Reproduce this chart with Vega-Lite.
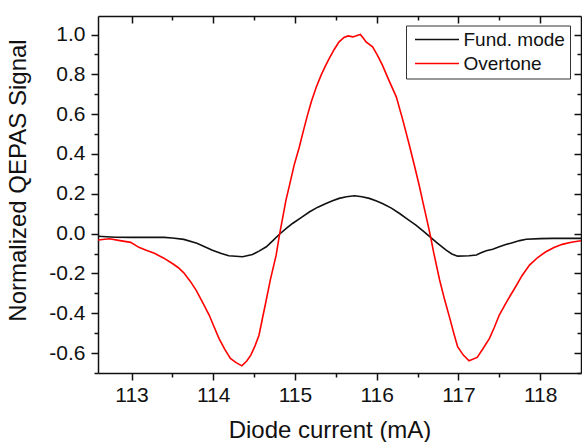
{
  "$schema": "https://vega.github.io/schema/vega-lite/v6.json",
  "width": 483,
  "height": 357,
  "autosize": {"type": "none"},
  "padding": {"left": 98, "top": 16, "right": 1, "bottom": 69},
  "config": {
    "font": "Liberation Sans",
    "view": {"stroke": null},
    "axis": {"grid": false, "domainColor": "#111", "domainWidth": 1.5, "tickColor": "#111", "tickWidth": 1.5, "labelColor": "#111", "titleColor": "#111", "titleFontWeight": "normal", "labelFlush": false, "labelOverlap": false}
  },
  "datasets": {
    "curves": [
      {"x": 112.59, "y": -0.013, "mode": "Fund. mode"},
      {"x": 112.8, "y": -0.018, "mode": "Fund. mode"},
      {"x": 113.0, "y": -0.019, "mode": "Fund. mode"},
      {"x": 113.2, "y": -0.019, "mode": "Fund. mode"},
      {"x": 113.4, "y": -0.019, "mode": "Fund. mode"},
      {"x": 113.5, "y": -0.022, "mode": "Fund. mode"},
      {"x": 113.64, "y": -0.029, "mode": "Fund. mode"},
      {"x": 113.8, "y": -0.048, "mode": "Fund. mode"},
      {"x": 113.99, "y": -0.083, "mode": "Fund. mode"},
      {"x": 114.1, "y": -0.1, "mode": "Fund. mode"},
      {"x": 114.19, "y": -0.111, "mode": "Fund. mode"},
      {"x": 114.36, "y": -0.116, "mode": "Fund. mode"},
      {"x": 114.48, "y": -0.105, "mode": "Fund. mode"},
      {"x": 114.56, "y": -0.088, "mode": "Fund. mode"},
      {"x": 114.65, "y": -0.066, "mode": "Fund. mode"},
      {"x": 114.73, "y": -0.035, "mode": "Fund. mode"},
      {"x": 114.81, "y": -0.003, "mode": "Fund. mode"},
      {"x": 114.89, "y": 0.025, "mode": "Fund. mode"},
      {"x": 114.97, "y": 0.051, "mode": "Fund. mode"},
      {"x": 115.08, "y": 0.082, "mode": "Fund. mode"},
      {"x": 115.18, "y": 0.11, "mode": "Fund. mode"},
      {"x": 115.28, "y": 0.133, "mode": "Fund. mode"},
      {"x": 115.38, "y": 0.151, "mode": "Fund. mode"},
      {"x": 115.46, "y": 0.165, "mode": "Fund. mode"},
      {"x": 115.54, "y": 0.177, "mode": "Fund. mode"},
      {"x": 115.63, "y": 0.185, "mode": "Fund. mode"},
      {"x": 115.73, "y": 0.19, "mode": "Fund. mode"},
      {"x": 115.82, "y": 0.185, "mode": "Fund. mode"},
      {"x": 115.91, "y": 0.177, "mode": "Fund. mode"},
      {"x": 115.99, "y": 0.165, "mode": "Fund. mode"},
      {"x": 116.07, "y": 0.151, "mode": "Fund. mode"},
      {"x": 116.18, "y": 0.128, "mode": "Fund. mode"},
      {"x": 116.28, "y": 0.101, "mode": "Fund. mode"},
      {"x": 116.38, "y": 0.072, "mode": "Fund. mode"},
      {"x": 116.48, "y": 0.043, "mode": "Fund. mode"},
      {"x": 116.57, "y": 0.012, "mode": "Fund. mode"},
      {"x": 116.66, "y": -0.019, "mode": "Fund. mode"},
      {"x": 116.75, "y": -0.05, "mode": "Fund. mode"},
      {"x": 116.85, "y": -0.083, "mode": "Fund. mode"},
      {"x": 116.92, "y": -0.102, "mode": "Fund. mode"},
      {"x": 116.99, "y": -0.113, "mode": "Fund. mode"},
      {"x": 117.13, "y": -0.111, "mode": "Fund. mode"},
      {"x": 117.22, "y": -0.107, "mode": "Fund. mode"},
      {"x": 117.27, "y": -0.097, "mode": "Fund. mode"},
      {"x": 117.34, "y": -0.086, "mode": "Fund. mode"},
      {"x": 117.42, "y": -0.078, "mode": "Fund. mode"},
      {"x": 117.5, "y": -0.066, "mode": "Fund. mode"},
      {"x": 117.58, "y": -0.055, "mode": "Fund. mode"},
      {"x": 117.66, "y": -0.046, "mode": "Fund. mode"},
      {"x": 117.75, "y": -0.035, "mode": "Fund. mode"},
      {"x": 117.83, "y": -0.028, "mode": "Fund. mode"},
      {"x": 118.0, "y": -0.025, "mode": "Fund. mode"},
      {"x": 118.15, "y": -0.024, "mode": "Fund. mode"},
      {"x": 118.3, "y": -0.024, "mode": "Fund. mode"},
      {"x": 118.5, "y": -0.024, "mode": "Fund. mode"},
      {"x": 112.59, "y": -0.032, "mode": "Overtone"},
      {"x": 112.73, "y": -0.026, "mode": "Overtone"},
      {"x": 112.86, "y": -0.035, "mode": "Overtone"},
      {"x": 112.99, "y": -0.044, "mode": "Overtone"},
      {"x": 113.09, "y": -0.069, "mode": "Overtone"},
      {"x": 113.18, "y": -0.083, "mode": "Overtone"},
      {"x": 113.28, "y": -0.099, "mode": "Overtone"},
      {"x": 113.39, "y": -0.122, "mode": "Overtone"},
      {"x": 113.5, "y": -0.15, "mode": "Overtone"},
      {"x": 113.57, "y": -0.17, "mode": "Overtone"},
      {"x": 113.64, "y": -0.197, "mode": "Overtone"},
      {"x": 113.72, "y": -0.24, "mode": "Overtone"},
      {"x": 113.79, "y": -0.284, "mode": "Overtone"},
      {"x": 113.87, "y": -0.345, "mode": "Overtone"},
      {"x": 113.95, "y": -0.409, "mode": "Overtone"},
      {"x": 114.01, "y": -0.468, "mode": "Overtone"},
      {"x": 114.07, "y": -0.526, "mode": "Overtone"},
      {"x": 114.14, "y": -0.58, "mode": "Overtone"},
      {"x": 114.21, "y": -0.627, "mode": "Overtone"},
      {"x": 114.28, "y": -0.648, "mode": "Overtone"},
      {"x": 114.35, "y": -0.664, "mode": "Overtone"},
      {"x": 114.41, "y": -0.64, "mode": "Overtone"},
      {"x": 114.46, "y": -0.61, "mode": "Overtone"},
      {"x": 114.51, "y": -0.565, "mode": "Overtone"},
      {"x": 114.56, "y": -0.51, "mode": "Overtone"},
      {"x": 114.6, "y": -0.43, "mode": "Overtone"},
      {"x": 114.64, "y": -0.351, "mode": "Overtone"},
      {"x": 114.7, "y": -0.23, "mode": "Overtone"},
      {"x": 114.77, "y": -0.108, "mode": "Overtone"},
      {"x": 114.81, "y": -0.008, "mode": "Overtone"},
      {"x": 114.85, "y": 0.08, "mode": "Overtone"},
      {"x": 114.89, "y": 0.168, "mode": "Overtone"},
      {"x": 114.94, "y": 0.255, "mode": "Overtone"},
      {"x": 114.99, "y": 0.344, "mode": "Overtone"},
      {"x": 115.05, "y": 0.43, "mode": "Overtone"},
      {"x": 115.1, "y": 0.511, "mode": "Overtone"},
      {"x": 115.15, "y": 0.59, "mode": "Overtone"},
      {"x": 115.2, "y": 0.662, "mode": "Overtone"},
      {"x": 115.26, "y": 0.735, "mode": "Overtone"},
      {"x": 115.32, "y": 0.796, "mode": "Overtone"},
      {"x": 115.37, "y": 0.84, "mode": "Overtone"},
      {"x": 115.42, "y": 0.88, "mode": "Overtone"},
      {"x": 115.48, "y": 0.925, "mode": "Overtone"},
      {"x": 115.54, "y": 0.963, "mode": "Overtone"},
      {"x": 115.6, "y": 0.985, "mode": "Overtone"},
      {"x": 115.65, "y": 0.993, "mode": "Overtone"},
      {"x": 115.71, "y": 0.988, "mode": "Overtone"},
      {"x": 115.76, "y": 0.995, "mode": "Overtone"},
      {"x": 115.8, "y": 1.0, "mode": "Overtone"},
      {"x": 115.84, "y": 0.98, "mode": "Overtone"},
      {"x": 115.87, "y": 0.963, "mode": "Overtone"},
      {"x": 115.95, "y": 0.938, "mode": "Overtone"},
      {"x": 116.01, "y": 0.895, "mode": "Overtone"},
      {"x": 116.07, "y": 0.846, "mode": "Overtone"},
      {"x": 116.15, "y": 0.77, "mode": "Overtone"},
      {"x": 116.24, "y": 0.687, "mode": "Overtone"},
      {"x": 116.32, "y": 0.57, "mode": "Overtone"},
      {"x": 116.4, "y": 0.444, "mode": "Overtone"},
      {"x": 116.46, "y": 0.345, "mode": "Overtone"},
      {"x": 116.52, "y": 0.243, "mode": "Overtone"},
      {"x": 116.56, "y": 0.168, "mode": "Overtone"},
      {"x": 116.62, "y": 0.059, "mode": "Overtone"},
      {"x": 116.66, "y": -0.016, "mode": "Overtone"},
      {"x": 116.7, "y": -0.1, "mode": "Overtone"},
      {"x": 116.77, "y": -0.233, "mode": "Overtone"},
      {"x": 116.83, "y": -0.33, "mode": "Overtone"},
      {"x": 116.89, "y": -0.418, "mode": "Overtone"},
      {"x": 116.94, "y": -0.495, "mode": "Overtone"},
      {"x": 116.99, "y": -0.568, "mode": "Overtone"},
      {"x": 117.06, "y": -0.61, "mode": "Overtone"},
      {"x": 117.13, "y": -0.639, "mode": "Overtone"},
      {"x": 117.23, "y": -0.622, "mode": "Overtone"},
      {"x": 117.3, "y": -0.578, "mode": "Overtone"},
      {"x": 117.38, "y": -0.526, "mode": "Overtone"},
      {"x": 117.44, "y": -0.47, "mode": "Overtone"},
      {"x": 117.5, "y": -0.409, "mode": "Overtone"},
      {"x": 117.6, "y": -0.335, "mode": "Overtone"},
      {"x": 117.7, "y": -0.267, "mode": "Overtone"},
      {"x": 117.78, "y": -0.21, "mode": "Overtone"},
      {"x": 117.87, "y": -0.158, "mode": "Overtone"},
      {"x": 117.97, "y": -0.12, "mode": "Overtone"},
      {"x": 118.07, "y": -0.091, "mode": "Overtone"},
      {"x": 118.17, "y": -0.07, "mode": "Overtone"},
      {"x": 118.27, "y": -0.054, "mode": "Overtone"},
      {"x": 118.38, "y": -0.043, "mode": "Overtone"},
      {"x": 118.5, "y": -0.036, "mode": "Overtone"}
    ]
  },
  "data": {"name": "curves"},
  "layer": [
    {
      "mark": {"type": "line", "strokeWidth": 1.6, "clip": true},
      "encoding": {
        "x": {
          "field": "x", "type": "quantitative",
          "scale": {"domain": [112.59, 118.5], "nice": false, "zero": false},
          "axis": {
            "orient": "bottom",
            "values": [113, 114, 115, 116, 117, 118],
            "tickSize": 7,
            "format": "d",
            "labelFontSize": 21,
            "labelPadding": 4,
            "title": "Diode current (mA)",
            "titleFontSize": 24,
            "titleBaseline": "alphabetic",
            "titleAlign": "center",
            "titleX": 231.5,
            "titleY": 64
          }
        },
        "y": {
          "field": "y", "type": "quantitative",
          "scale": {"domain": [-0.7, 1.093], "nice": false, "zero": false},
          "axis": {
            "orient": "left",
            "values": [-0.6, -0.4, -0.2, 0, 0.2, 0.4, 0.6, 0.8, 1.0],
            "tickSize": 7,
            "labelExpr": "(datum.value < -0.001 ? '-' : '') + format(abs(datum.value), '.1f')",
            "labelFontSize": 21,
            "labelPadding": 6,
            "title": "Normalized QEPAS Signal",
            "titleFontSize": 24,
            "titleBaseline": "alphabetic",
            "titleAlign": "center",
            "titleAngle": 270,
            "titleX": -73,
            "titleY": 164
          }
        },
        "color": {
          "field": "mode", "type": "nominal",
          "scale": {"domain": ["Fund. mode", "Overtone"], "range": ["#111111", "#ff0000"]},
          "legend": {
            "title": null,
            "orient": "none",
            "legendX": 308,
            "legendY": 9.5,
            "direction": "vertical",
            "symbolType": "M-2.75,0H2.75",
            "symbolSize": 256,
            "symbolOffset": 17,
            "symbolStrokeWidth": 1.6,
            "labelFontSize": 19,
            "labelColor": "#111",
            "labelOffset": 17,
            "rowPadding": 4,
            "padding": 4.5,
            "strokeColor": "#333",
            "fillColor": "white",
            "cornerRadius": 0
          }
        }
      }
    },
    {
      "mark": {"type": "line", "opacity": 0},
      "encoding": {
        "x": {
          "field": "x", "type": "quantitative",
          "scale": {"domain": [112.59, 118.5], "nice": false, "zero": false},
          "axis": {"orient": "top", "values": [113, 114, 115, 116, 117, 118], "tickSize": -7, "labels": false, "title": null}
        },
        "y": {
          "field": "y", "type": "quantitative",
          "scale": {"domain": [-0.7, 1.093], "nice": false, "zero": false},
          "axis": {"orient": "right", "values": [-0.6, -0.4, -0.2, 0, 0.2, 0.4, 0.6, 0.8, 1.0], "tickSize": -7, "labels": false, "title": null}
        },
        "detail": {"field": "mode", "type": "nominal"}
      }
    },
    {
      "mark": {"type": "line", "opacity": 0},
      "encoding": {
        "x": {
          "field": "x", "type": "quantitative",
          "scale": {"domain": [112.59, 118.5], "nice": false, "zero": false},
          "axis": {"orient": "bottom", "values": [113.5, 114.5, 115.5, 116.5, 117.5], "tickSize": 4, "labels": false, "domain": false, "title": null}
        },
        "y": {
          "field": "y", "type": "quantitative",
          "scale": {"domain": [-0.7, 1.093], "nice": false, "zero": false},
          "axis": {"orient": "left", "values": [-0.7, -0.5, -0.3, -0.1, 0.1, 0.3, 0.5, 0.7, 0.9], "tickSize": 4, "labels": false, "domain": false, "title": null}
        },
        "detail": {"field": "mode", "type": "nominal"}
      }
    },
    {
      "mark": {"type": "line", "opacity": 0},
      "encoding": {
        "x": {
          "field": "x", "type": "quantitative",
          "scale": {"domain": [112.59, 118.5], "nice": false, "zero": false},
          "axis": {"orient": "top", "values": [113.5, 114.5, 115.5, 116.5, 117.5], "tickSize": -4, "labels": false, "domain": false, "title": null}
        },
        "y": {
          "field": "y", "type": "quantitative",
          "scale": {"domain": [-0.7, 1.093], "nice": false, "zero": false},
          "axis": {"orient": "right", "values": [-0.7, -0.5, -0.3, -0.1, 0.1, 0.3, 0.5, 0.7, 0.9], "tickSize": -4, "labels": false, "domain": false, "title": null}
        },
        "detail": {"field": "mode", "type": "nominal"}
      }
    }
  ],
  "resolve": {"axis": {"x": "independent", "y": "independent"}}
}
